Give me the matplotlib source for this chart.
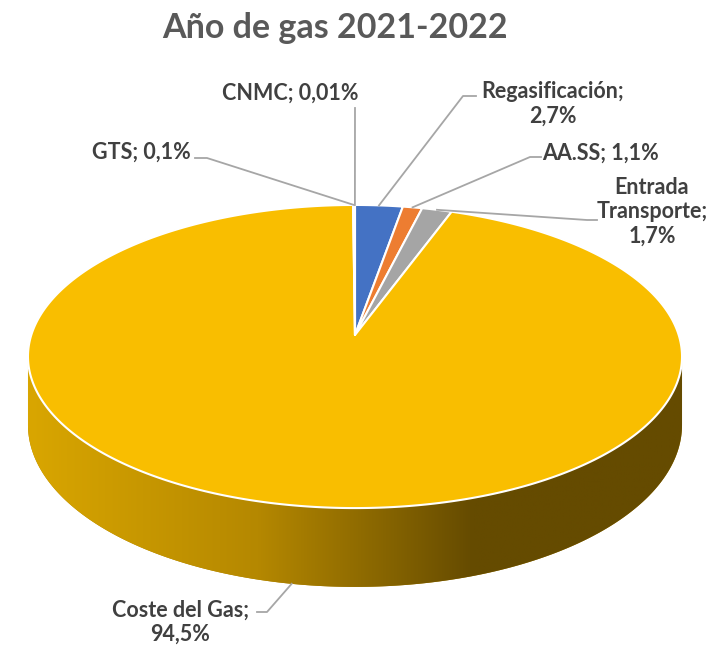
import numpy as np
import matplotlib.pyplot as plt
from matplotlib.colors import LinearSegmentedColormap

# data (clockwise from 12 o'clock, as in the Excel chart)
names = ["Regasificación", "AA.SS", "Entrada\nTransporte", "Coste del Gas", "GTS", "CNMC"]
values = [2.7, 1.1, 1.7, 94.5, 0.1, 0.01]
label_sep = ["\n", " ", "\n", "\n", " ", " "]
colors = ["#4472C4", "#ED7D31", "#A5A5A5", "#F9BE00", "#5B9BD5", "#70AD47"]

# label placement (pixel coords) and leader line elbows
label_pos = [(553, 104), (601, 153), (652, 212), (180, 622), (141, 152), (290, 93)]
leader_pts = [[(463, 96), (476, 96)],
              [(530, 157), (541, 157)],
              [(587, 220), (597, 220)],
              [(267, 612), (257, 612)],
              [(207, 158), (195, 158)],
              [(355, 108)]]

W, Hpx, dpi = 713, 646, 100

# perspective pie geometry
CX, CY = 355, 335
A, B, K = 323.7, 148.5, 0.142
H, KH = 67.0, 0.15


def project(theta, depth=0.0):
    u, w = np.sin(theta), np.cos(theta)
    x = CX + A * u / (1 + K * w)
    y = CY - B * w / (1 + K * w) + depth * H / (1 + KH * w)
    return x, y


plt.rcParams['font.family'] = ['Lato', 'DejaVu Sans']

fig = plt.figure(figsize=(W / dpi, Hpx / dpi), dpi=dpi)
ax = fig.add_axes([0, 0, 1, 1])
ax.set_xlim(0, W)
ax.set_ylim(Hpx, 0)
ax.axis('off')

vals = np.array(values)
edges = np.concatenate([[0], np.cumsum(vals / vals.sum())]) * 2 * np.pi

# side of the cake (only the front is visible)
t = np.linspace(np.pi / 2 + np.arcsin(K), 1.5 * np.pi - np.arcsin(K), 300)
xt, yt = project(t)
xb, yb = project(t[::-1], 1.0)
side = ax.fill(np.r_[xt, xb], np.r_[yt, yb], color="#B08400", lw=0, zorder=1)[0]
side_cmap = LinearSegmentedColormap.from_list(
    "side", [(0, "#D9A600"), (0.35, "#B58800"), (0.58, "#7E5E00"),
             (0.68, "#654B00"), (1, "#654B00")])
grad = np.linspace(0, 1, 256).reshape(1, -1)
im = ax.imshow(grad, extent=(28, 683, 600, 330), cmap=side_cmap,
               aspect='auto', zorder=2)
im.set_clip_path(side)
ax.set_xlim(0, W)
ax.set_ylim(Hpx, 0)

# top face wedges
for i in range(len(vals)):
    th = np.linspace(edges[i], edges[i + 1], max(3, int(200 * (edges[i + 1] - edges[i]))))
    x, y = project(th)
    ax.fill(np.r_[CX, x], np.r_[CY, y], color=colors[i], ec="white",
            lw=1.5, joinstyle='round', zorder=3)

# labels and leader lines
for i in range(len(vals)):
    txt = names[i] + ";" + label_sep[i] + f"{values[i]}".replace(".", ",") + "%"
    ax.text(label_pos[i][0], label_pos[i][1], txt, ha='center', va='center',
            ma='center', fontsize=15.5, fontweight='bold', color="#404040",
            linespacing=1.2, zorder=5)
    mid = (edges[i] + edges[i + 1]) / 2
    depth = 1.0 if np.cos(mid) < -0.5 else 0.0
    px, py = project(mid, depth)
    pts = [(px, py)] + leader_pts[i]
    ax.plot([p[0] for p in pts], [p[1] for p in pts], color="#A6A6A6",
            lw=1.3, zorder=4)

ax.text(335, 28, "Año de gas 2021-2022", ha='center', va='center',
        fontsize=24.5, fontweight='bold', color="#595959")

fig.savefig("out.png", dpi=dpi)
